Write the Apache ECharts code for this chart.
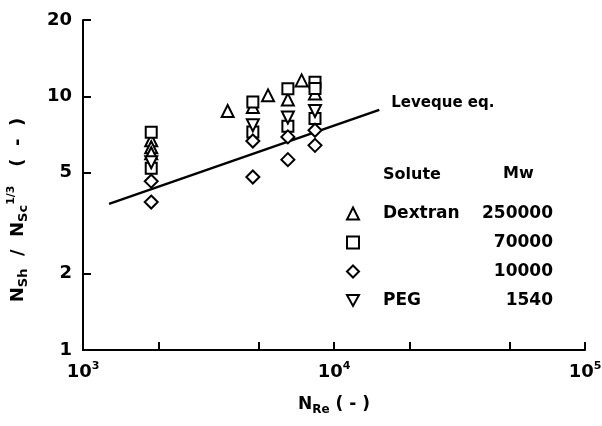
<!DOCTYPE html>
<html><head><meta charset="utf-8">
<script src="https://cdn.jsdelivr.net/npm/echarts@6/dist/echarts.min.js"></script>
<style>html,body{margin:0;padding:0;background:#fff}#c{width:602px;height:426px}</style>
</head><body><div id="c"></div>
<script>
// ---- data ----
const seriesNames = ['Dextran 250000', 'Dextran 70000', 'Dextran 10000', 'PEG 1540'];
const soluteLabels = ['Dextran', ' ', ' ', 'PEG'];
const mwLabels = ['250000', '70000', '10000', '1540'];
// [N_Re, N_Sh/N_Sc^(1/3)]
const dextran250k = [[1870,6.71],[1870,6.30],[1870,5.97],[3770,8.75],[4750,9.08],[5460,10.09],[6550,9.71],[7430,11.56],[8400,10.27]];
const dextran70k  = [[1870,7.22],[1870,5.21],[4750,9.50],[4750,7.24],[6550,10.72],[6550,7.62],[8400,11.36],[8400,10.75],[8400,8.17]];
const dextran10k  = [[1870,4.63],[1870,3.83],[4750,6.67],[4750,4.81],[6550,6.92],[6550,5.63],[8400,7.35],[8400,6.41]];
const peg1540     = [[1870,5.50],[4750,7.69],[6550,8.25],[8400,8.75]];
const leveque     = [[1270,3.77],[15150,8.85]];
const xTickValues = [1000,2000,5000,10000,20000,50000,100000];
const xLabelValues = [1000,10000,100000];
const yTickValues = [1,2,5,10,20];

const F = '"DejaVu Sans", "Liberation Sans", Arial, sans-serif';
const txt = (size, extra) => Object.assign({fontFamily:F, fontWeight:'bold', fontSize:size, color:'#000'}, extra||{});

const chart = echarts.init(document.getElementById('c'), null, {renderer:'canvas'});
const sc = (name, data, symbol, rot, size) => ({
  type:'scatter', name, data, symbol, symbolRotate: rot||0, symbolSize: size,
  itemStyle:{color:'#fff', borderColor:'#000', borderWidth:2, opacity:1}, z:3
});
const invTri = 'path://M0,0 L10,0 L5,9 Z';

chart.setOption({
  animation:false,
  backgroundColor:'#fff',
  grid:{left:83, right:17, top:20, bottom:76, containLabel:false, outerBoundsMode:'none'},
  xAxis:{
    type:'log', logBase:10, min:1000, max:100000,
    axisLine:{lineStyle:{color:'#000', width:2}},
    axisTick:{inside:true, length:8, customValues:xTickValues, lineStyle:{color:'#000', width:2}},
    axisLabel:{customValues:xLabelValues, margin:11,
      formatter: v => '{b|10}{s|' + Math.round(Math.log10(v)) + '}',
      rich:{b:txt(18,{lineHeight:22}), s:txt(11,{verticalAlign:'top', lineHeight:12})}},
    splitLine:{show:false},
    name:'{b|N}{s|Re}{b| ( - )}', nameLocation:'middle', nameGap:44,
    nameTextStyle:{rich:{b:txt(17,{lineHeight:22}), s:txt(12,{verticalAlign:'bottom', lineHeight:16})}}
  },
  yAxis:{
    type:'log', logBase:10, min:1, max:20,
    axisLine:{lineStyle:{color:'#000', width:2}},
    axisTick:{inside:true, length:8, customValues:yTickValues, lineStyle:{color:'#000', width:2}},
    axisLabel:{customValues:yTickValues, margin:11, ...txt(18)},
    splitLine:{show:false},
    name:'{b|N}{s|Sh}{b|  /  N}{s|Sc}{p|1/3}{b|   (  -  )}', nameLocation:'middle', nameGap:53, nameRotate:90,
    nameTextStyle:{padding:[0,50,0,0], rich:{b:txt(18,{lineHeight:24}), s:txt(13,{verticalAlign:'bottom', lineHeight:16}), p:txt(11,{verticalAlign:'top', lineHeight:10})}}
  },
  legend:{
    data:[
      {name:seriesNames[0]}, {name:seriesNames[1]}, {name:seriesNames[2]},
      {name:seriesNames[3], icon:invTri}
    ],
    orient:'vertical', left:341, top:200, itemGap:12,
    itemWidth:12, itemHeight:12,
    itemStyle:{color:'#fff', borderColor:'#000', borderWidth:2, opacity:1},
    formatter: name => { const i = seriesNames.indexOf(name); return '{sp| }{n|' + soluteLabels[i] + '}{m|' + mwLabels[i] + '}'; },
    textStyle:{rich:{sp:{width:19}, n:txt(17,{width:90, lineHeight:20}), m:txt(17,{width:80, align:'right', lineHeight:20})}}
  },
  graphic:[
    {type:'text', left:383, top:167, style:{text:'Solute', ...txt(16)}},
    {type:'text', left:503, top:166, style:{text:'Mw', ...txt(16)}}
  ],
  series:[
    {type:'line', name:'Leveque eq.', data:leveque, symbol:'none', z:2,
     lineStyle:{color:'#000', width:2.5},
     endLabel:{show:true, formatter:'Leveque eq.', distance:12, offset:[0,-7], ...txt(15)}},
    sc(seriesNames[0], dextran250k, 'triangle', 0, 12),
    sc(seriesNames[1], dextran70k, 'rect', 0, 11),
    sc(seriesNames[2], dextran10k, 'diamond', 0, 13),
    sc(seriesNames[3], peg1540, 'triangle', 180, 12)
  ]
});
</script>
</body></html>
